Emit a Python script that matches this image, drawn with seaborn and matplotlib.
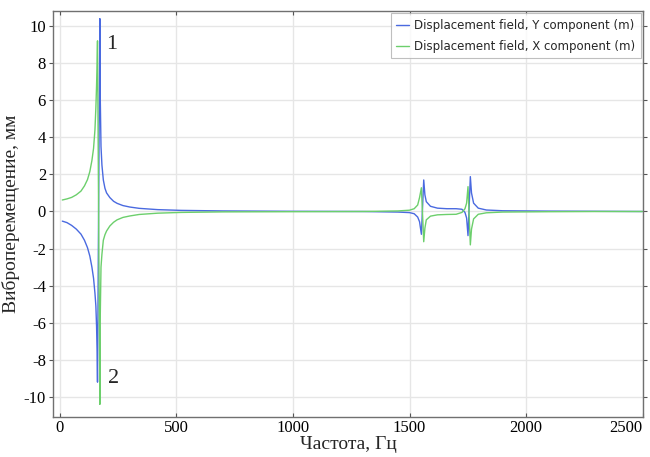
import matplotlib
matplotlib.use("Agg")
import matplotlib.pyplot as plt
import numpy as np
import pandas as pd
import seaborn as sns

# ---------------- data ----------------
freq = [10, 30, 50, 70, 90, 105, 118, 128, 137, 144, 150, 154, 157, 159, 161,
        171, 173, 176, 180, 186, 193, 200, 214, 230, 245, 270, 300, 340, 420,
        520, 700, 1000, 1300, 1450, 1500, 1520, 1535, 1543, 1551, 1561, 1566,
        1572, 1590, 1620, 1660, 1700, 1725, 1738, 1745, 1751, 1761, 1766, 1775,
        1795, 1830, 1900, 2100, 2300, 2500]

disp_y = [-0.52, -0.60, -0.75, -0.95, -1.22, -1.55, -1.95, -2.40, -3.0, -3.6,
          -4.4, -5.1, -6.2, -7.4, -9.2,
          10.4, 6.0, 3.5, 2.5, 1.7, 1.25, 1.0, 0.75, 0.55, 0.44, 0.32, 0.24, 0.17,
          0.10, 0.06, 0.03, 0.01, 0.0, -0.03, -0.06, -0.12, -0.30, -0.55, -1.23,
          1.70, 0.90, 0.53, 0.28, 0.18, 0.15, 0.15, 0.12, -0.05, -0.35, -1.30,
          1.88, 1.00, 0.45, 0.18, 0.08, 0.04, 0.02, 0.01, 0.0]

disp_x = [0.62, 0.68, 0.76, 0.90, 1.10, 1.38, 1.72, 2.15, 2.75, 3.40,
          4.4, 5.6, 6.8, 7.9, 9.2,
          -10.4, -5.5, -3.0, -2.3, -1.55, -1.25, -1.05, -0.78, -0.58, -0.45,
          -0.32, -0.24, -0.16, -0.09, -0.05, -0.02, -0.01, 0.0, 0.03, 0.07, 0.15,
          0.35, 0.75, 1.28, -1.63, -0.90, -0.45, -0.25, -0.18, -0.16, -0.15,
          -0.05, 0.15, 0.45, 1.34, -1.80, -0.95, -0.40, -0.15, -0.07, -0.03,
          -0.01, 0.0, 0.0]

series_names = ["Displacement field, Y component (m)",
                "Displacement field, X component (m)"]
x_ticks = [0, 500, 1000, 1500, 2000, 2500]
y_ticks = [-10, -8, -6, -4, -2, 0, 2, 4, 6, 8, 10]
peak_labels = ["1", "2"]

# ---------------- plotting ----------------
sns.set_theme(style="white")
plt.rcParams["font.family"] = ["Liberation Serif", "DejaVu Serif"]

df = pd.concat([
    pd.DataFrame({"freq": freq, "value": disp_y, "series": series_names[0]}),
    pd.DataFrame({"freq": freq, "value": disp_x, "series": series_names[1]}),
], ignore_index=True)

fig = plt.figure(figsize=(6.5, 4.57), dpi=100)
ax = fig.add_axes([53 / 650, 1 - 417 / 457, (643 - 53) / 650, (417 - 11) / 457])

sns.lineplot(data=df, x="freq", y="value", hue="series", hue_order=series_names,
             palette=["#4a6ae0", "#6ccf6c"], estimator=None, sort=False,
             linewidth=1.0, ax=ax)

ax.set_xlim(-30, 2502)
ax.set_ylim(-11.08, 10.81)
ax.set_xticks(x_ticks)
ax.set_yticks(y_ticks)
ax.set_xticklabels([str(t) for t in x_ticks])
ax.set_yticklabels([str(t) for t in y_ticks])
ax.grid(True, color="#e6e6e6", linewidth=1.0)
ax.set_axisbelow(True)

for s in ax.spines.values():
    s.set_color("#707070")
    s.set_linewidth(1.0)

ax.tick_params(axis="both", labelsize=12, colors="#555555", labelcolor="black",
               width=0.8)
ax.tick_params(axis="y", left=True, right=True, direction="out", length=3, pad=2)
ax.tick_params(axis="x", bottom=True, top=True, direction="in", length=3, pad=2)

labs = ax.get_xticklabels()
labs[-1].set_horizontalalignment("right")

ax.set_xlabel("Частота, Гц", fontsize=14, labelpad=0)
ax.set_ylabel("Виброперемещение, мм", fontsize=14, labelpad=3)

ax.text(223, 8.98, peak_labels[0], fontsize=16, ha="center", va="center")
ax.text(231, -8.98, peak_labels[1], fontsize=16, ha="center", va="center")

leg = ax.legend(loc="upper right", bbox_to_anchor=(1.0, 1.0), borderaxespad=0.2,
                prop={"family": "DejaVu Sans", "size": 8.5}, frameon=True,
                fancybox=False, edgecolor="#b0b0b0", handlelength=1.1,
                handletextpad=0.4, borderpad=0.45, labelspacing=0.7)
leg.get_frame().set_linewidth(0.8)

fig.savefig("out.png", dpi=100)
